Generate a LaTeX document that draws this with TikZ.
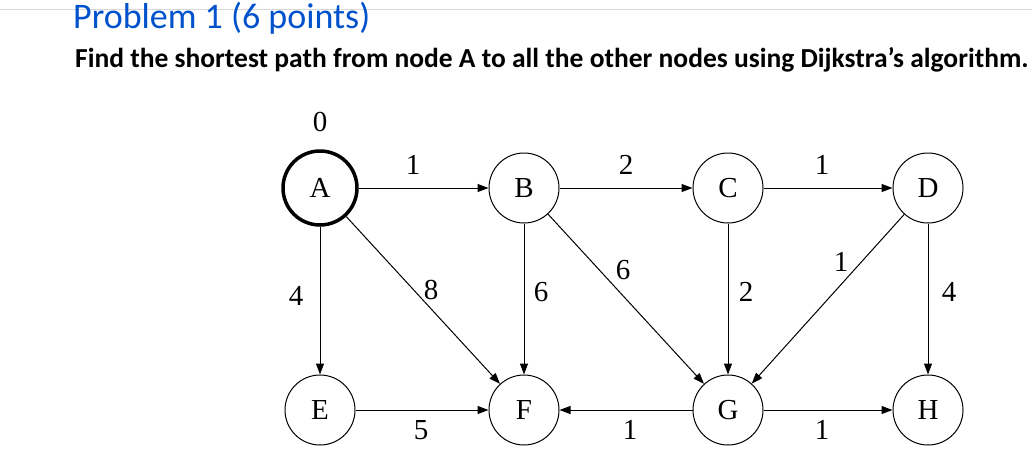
\documentclass[tikz,border=0pt]{standalone}
\usepackage{fontspec}
\setmainfont{Liberation Serif}
\newfontfamily\carlitofont{Carlito}
\usetikzlibrary{arrows.meta}
\begin{document}
\begin{tikzpicture}[x=1pt,y=-1pt,
  nd/.style={circle,draw,line width=1pt,minimum size=70pt,inner sep=0pt,font=\fontsize{29}{29}\selectfont},
  ed/.style={-{Triangle[length=11pt,width=8pt]},line width=1pt},
  lb/.style={font=\fontsize{29}{29}\selectfont,inner sep=0pt}]
\useasboundingbox (0,0) rectangle (1032,474);
\fill[white] (0,0) rectangle (1032,474);
\draw[gray!30,line width=1pt] (0,9) -- (1032,9);
\node[anchor=west,text=blue!60!cyan!80!black,font=\carlitofont\fontsize{36}{36}\selectfont,inner sep=0pt] (t) at (73,18) {Problem 1 (6 points)};
\node[anchor=west,font=\carlitofont\bfseries\fontsize{27.5}{27.5}\selectfont,inner sep=0pt] (s) at (75,60) {Find the shortest path from node A to all the other nodes using Dijkstra’s algorithm.};
\node[nd,line width=3.5pt,minimum size=74pt] (A) at (320,188) {A};
\node[nd] (B) at (524,188) {B};
\node[nd] (C) at (728,188) {C};
\node[nd] (D) at (928,188) {D};
\node[nd] (E) at (320,410) {E};
\node[nd] (F) at (524,410) {F};
\node[nd] (G) at (728,410) {G};
\node[nd] (H) at (928,410) {H};
\node[lb] (z) at (320,122) {0};
\draw[ed] (A) -- (B); \draw[ed] (B) -- (C); \draw[ed] (C) -- (D);
\draw[ed] (A) -- (E); \draw[ed] (A) -- (F); \draw[ed] (B) -- (F);
\draw[ed] (B) -- (G); \draw[ed] (C) -- (G); \draw[ed] (D) -- (G);
\draw[ed] (D) -- (H); \draw[ed] (E) -- (F); \draw[ed] (G) -- (F); \draw[ed] (G) -- (H);
\node[lb] (l1) at (413,165) {1};
\node[lb] (l2) at (626,165) {2};
\node[lb] (l3) at (822,165) {1};
\node[lb] (l4) at (296,296) {4};
\node[lb] (l5) at (431,290) {8};
\node[lb] (l6) at (541,292) {6};
\node[lb] (l7) at (623,270) {6};
\node[lb] (l8) at (746,292) {2};
\node[lb] (l9) at (841,262) {1};
\node[lb] (l10) at (949,292) {4};
\node[lb] (l11) at (421,430) {5};
\node[lb] (l12) at (630,430) {1};
\node[lb] (l13) at (822,430) {1};
\end{tikzpicture}
\end{document}
